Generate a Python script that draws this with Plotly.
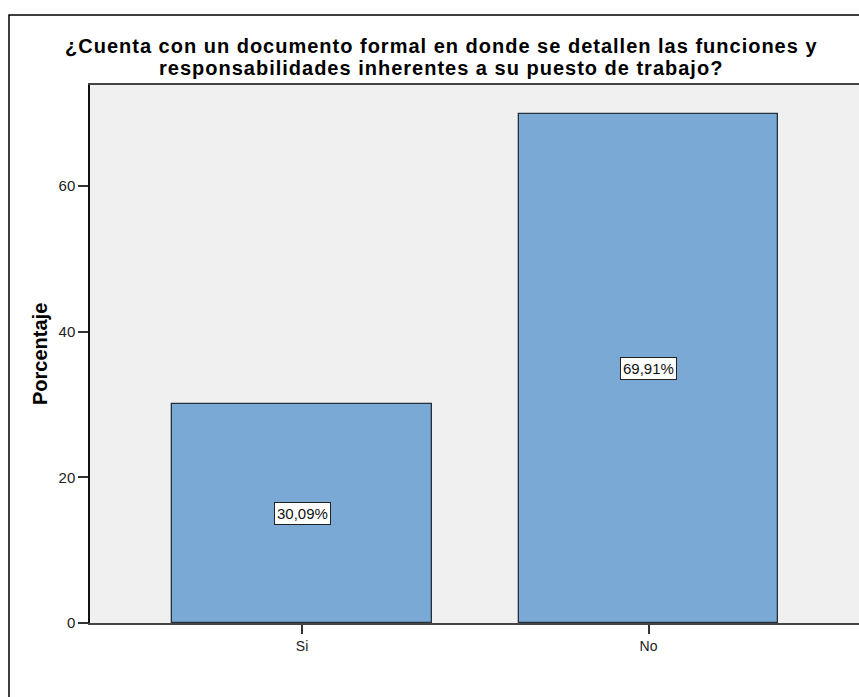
import plotly.graph_objects as go

# Respuestas y porcentajes
categorias = ["Si", "No"]
porcentajes = [30.09, 69.91]
y_ticks = [0, 20, 40, 60]

titulo_lineas = [
    "¿Cuenta con un documento formal en donde se detallen las funciones y",
    "responsabilidades inherentes a su puesto de trabajo?",
]

FONT = "Arial, Liberation Sans"
W, H = 859, 697
L, R, T, B = 90, 0, 85, 74
pw, ph = W - L - R, H - T - B


def px_x(x):
    return (x - L) / pw


def px_y(y):
    return (H - B - y) / ph


fig = go.Figure()
fig.add_trace(go.Bar(
    x=categorias,
    y=porcentajes,
    width=0.75,
    marker=dict(color="#7aa9d5", line=dict(color="#27313b", width=1.3)),
    hoverinfo="skip",
))


# Etiquetas con el porcentaje en el centro de cada barra
def fmt(v):
    return f"{v:.2f}".replace(".", ",") + "%"


annotations = []
for c, v in zip(categorias, porcentajes):
    annotations.append(dict(
        x=c, y=v / 2, xref="x", yref="y", text=fmt(v), showarrow=False,
        font=dict(family=FONT, size=15, color="#111"),
        bgcolor="white", bordercolor="#222", borderwidth=1, borderpad=2,
    ))

# Título del eje Y
annotations.append(dict(
    x=0, y=0.5, xref="paper", yref="paper", xshift=-50, text="<b>Porcentaje</b>",
    textangle=-90, showarrow=False, xanchor="center", yanchor="middle",
    font=dict(family=FONT, size=20, color="#000"),
))

# Título del gráfico, una anotación por línea
for linea, yc in zip(titulo_lineas, [46, 68]):
    annotations.append(dict(
        x=px_x(441), y=px_y(yc), xref="paper", yref="paper",
        text='<span style="letter-spacing:1px"><b>' + linea + "</b></span>",
        showarrow=False, xanchor="center", yanchor="middle",
        font=dict(family=FONT, size=20, color="#000"),
    ))

# Marco exterior del gráfico
shapes = [dict(
    type="rect", xref="paper", yref="paper",
    x0=px_x(9), x1=px_x(W + 10),
    y0=px_y(H + 10), y1=px_y(15),
    line=dict(color="#000", width=1.5), fillcolor="rgba(0,0,0,0)", layer="below",
)]

fig.update_layout(
    width=W, height=H,
    margin=dict(l=L, r=R, t=T, b=B),
    paper_bgcolor="white",
    plot_bgcolor="#f0f0f0",
    showlegend=False,
    annotations=annotations,
    shapes=shapes,
    font=dict(family=FONT, size=14, color="#222"),
    bargap=0,
)
fig.update_xaxes(
    type="category", range=[-0.612, 1.6075],
    showline=True, linecolor="#444", linewidth=1.5, mirror=True,
    ticks="outside", ticklen=9, tickcolor="#333", tickwidth=1.5,
    showgrid=False, zeroline=False,
    tickfont=dict(family=FONT, size=14, color="#222"),
)
fig.update_yaxes(
    range=[0, 73.9], tickvals=y_ticks,
    showline=True, linecolor="#111", linewidth=1.5,
    ticks="outside", ticklen=10, tickcolor="#333", tickwidth=1.5,
    showgrid=False, zeroline=False,
    tickfont=dict(family=FONT, size=15, color="#222"),
)

fig.write_html("out.html")
